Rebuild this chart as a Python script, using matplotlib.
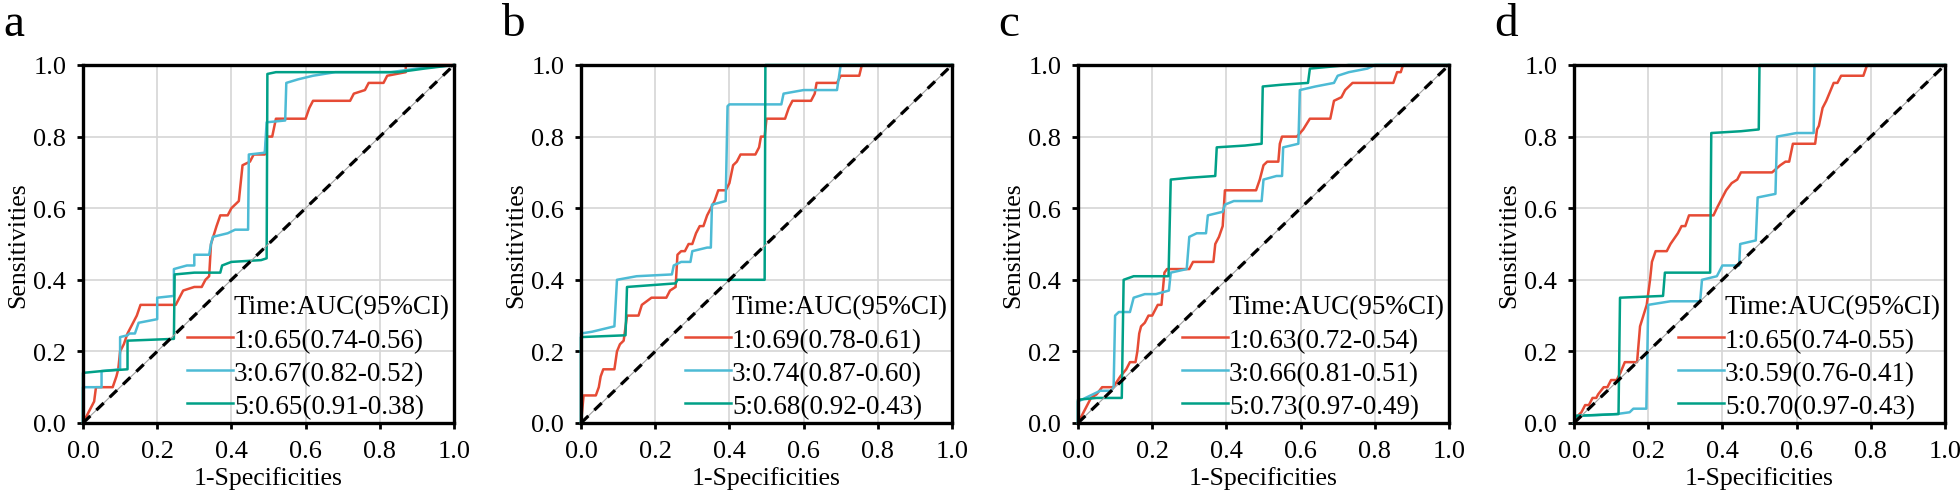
import matplotlib
matplotlib.use("Agg")
import matplotlib.pyplot as plt
from matplotlib.lines import Line2D

plt.rcParams['font.family'] = ['Liberation Serif', 'DejaVu Serif']

# ROC curves: (1-specificity, sensitivity) vertices
a1 = [(0,0),(0.01,0.02),(0.02,0.04),(0.03,0.06),(0.035,0.10),(0.08,0.10),(0.09,0.13),(0.095,0.15),
      (0.10,0.20),(0.11,0.22),(0.12,0.25),(0.13,0.27),(0.145,0.30),(0.155,0.33),(0.25,0.33),(0.26,0.35),
      (0.27,0.37),(0.30,0.38),(0.32,0.38),(0.33,0.40),(0.34,0.41),(0.345,0.50),(0.36,0.55),(0.37,0.58),
      (0.39,0.58),(0.40,0.60),(0.42,0.62),(0.425,0.67),(0.43,0.72),(0.45,0.73),(0.46,0.75),(0.49,0.75),
      (0.495,0.80),(0.51,0.80),(0.52,0.85),(0.60,0.85),(0.61,0.88),(0.62,0.90),(0.72,0.90),(0.73,0.92),
      (0.76,0.93),(0.77,0.95),(0.81,0.95),(0.82,0.97),(0.87,0.98),(0.87,1.0),(1,1)]
a3 = [(0,0),(0,0.10),(0.05,0.10),(0.05,0.145),(0.10,0.15),(0.10,0.24),(0.12,0.245),(0.125,0.25),
      (0.14,0.25),(0.15,0.28),(0.20,0.29),(0.20,0.35),(0.245,0.355),(0.245,0.43),(0.28,0.44),(0.30,0.44),
      (0.30,0.47),(0.34,0.47),(0.345,0.50),(0.35,0.52),(0.39,0.53),(0.41,0.54),(0.445,0.54),(0.447,0.75),
      (0.49,0.755),(0.495,0.84),(0.545,0.845),(0.548,0.95),(0.58,0.96),(0.62,0.97),(0.68,0.98),
      (0.83,0.98),(0.90,0.99),(1,1)]
a5 = [(0,0),(0,0.14),(0.05,0.145),(0.12,0.15),(0.12,0.23),(0.245,0.235),(0.247,0.415),(0.30,0.42),
      (0.37,0.42),(0.375,0.44),(0.40,0.45),(0.48,0.455),(0.495,0.46),(0.497,0.975),(0.52,0.98),
      (0.85,0.98),(0.92,0.99),(1,1)]

b1 = [(0,0),(0.007,0.077),(0.04,0.077),(0.048,0.10),(0.053,0.13),(0.06,0.15),(0.09,0.15),(0.097,0.20),
      (0.105,0.22),(0.115,0.23),(0.124,0.30),(0.155,0.30),(0.164,0.33),(0.19,0.35),(0.23,0.35),(0.24,0.37),
      (0.255,0.38),(0.26,0.47),(0.27,0.48),(0.28,0.48),(0.29,0.50),(0.30,0.50),(0.31,0.53),(0.32,0.55),
      (0.33,0.55),(0.34,0.58),(0.35,0.60),(0.36,0.62),(0.37,0.65),(0.39,0.65),(0.40,0.67),(0.41,0.72),
      (0.42,0.73),(0.43,0.75),(0.47,0.75),(0.48,0.77),(0.485,0.80),(0.495,0.80),(0.50,0.85),(0.55,0.85),
      (0.56,0.88),(0.57,0.90),(0.62,0.90),(0.63,0.92),(0.635,0.95),(0.69,0.95),(0.70,0.97),(0.75,0.97),
      (0.757,1.0),(1,1)]
b3 = [(0,0),(0,0.25),(0.03,0.255),(0.05,0.26),(0.09,0.27),(0.097,0.40),(0.15,0.41),(0.245,0.415),
      (0.25,0.44),(0.27,0.45),(0.295,0.45),(0.30,0.48),(0.34,0.49),(0.35,0.49),(0.353,0.61),(0.39,0.62),
      (0.395,0.885),(0.40,0.89),(0.54,0.89),(0.546,0.92),(0.60,0.93),(0.69,0.93),(0.70,1.0),(1,1)]
b5 = [(0,0),(0,0.24),(0.12,0.245),(0.124,0.38),(0.255,0.39),(0.26,0.40),(0.495,0.40),(0.497,1.0),(1,1)]

c1 = [(0,0),(0.015,0.03),(0.025,0.05),(0.035,0.07),(0.05,0.08),(0.065,0.10),(0.095,0.10),(0.114,0.13),
      (0.13,0.15),(0.14,0.17),(0.155,0.17),(0.16,0.20),(0.165,0.25),(0.17,0.27),(0.18,0.28),(0.19,0.30),
      (0.20,0.30),(0.215,0.33),(0.225,0.33),(0.233,0.42),(0.24,0.43),(0.30,0.43),(0.31,0.45),(0.365,0.45),
      (0.37,0.50),(0.38,0.52),(0.39,0.55),(0.396,0.65),(0.48,0.65),(0.49,0.68),(0.50,0.72),(0.51,0.73),
      (0.54,0.73),(0.544,0.78),(0.55,0.80),(0.59,0.80),(0.607,0.82),(0.625,0.85),(0.68,0.85),(0.69,0.90),
      (0.71,0.91),(0.72,0.93),(0.74,0.95),(0.85,0.95),(0.86,0.98),(0.87,0.98),(0.876,1.0),(1,1)]
c3 = [(0,0),(0,0.06),(0.02,0.07),(0.04,0.08),(0.06,0.09),(0.09,0.09),(0.096,0.10),(0.10,0.30),
      (0.11,0.31),(0.14,0.31),(0.15,0.35),(0.18,0.36),(0.21,0.36),(0.245,0.37),(0.25,0.42),(0.293,0.43),
      (0.30,0.52),(0.32,0.53),(0.345,0.53),(0.35,0.58),(0.39,0.59),(0.396,0.61),(0.42,0.62),(0.495,0.62),
      (0.50,0.68),(0.535,0.69),(0.55,0.69),(0.553,0.77),(0.594,0.78),(0.598,0.93),(0.64,0.94),(0.69,0.95),
      (0.70,0.97),(0.73,0.98),(0.78,0.99),(0.80,1.0),(1,1)]
c5 = [(0,0),(0,0.065),(0.05,0.07),(0.118,0.07),(0.123,0.40),(0.15,0.41),(0.244,0.41),(0.25,0.68),
      (0.30,0.685),(0.37,0.69),(0.374,0.77),(0.45,0.775),(0.495,0.78),(0.498,0.94),(0.55,0.945),
      (0.62,0.95),(0.625,0.99),(0.73,1.0),(1,1)]

d1 = [(0,0),(0.01,0.02),(0.02,0.03),(0.03,0.05),(0.04,0.05),(0.05,0.07),(0.06,0.07),(0.065,0.08),
      (0.08,0.10),(0.09,0.10),(0.10,0.12),(0.115,0.12),(0.125,0.14),(0.137,0.17),(0.17,0.17),(0.178,0.27),
      (0.187,0.30),(0.196,0.33),(0.205,0.40),(0.21,0.45),(0.22,0.48),(0.25,0.48),(0.26,0.50),(0.28,0.53),
      (0.29,0.55),(0.30,0.55),(0.31,0.58),(0.376,0.58),(0.385,0.60),(0.395,0.62),(0.40,0.63),(0.41,0.65),
      (0.425,0.67),(0.44,0.68),(0.45,0.70),(0.534,0.70),(0.556,0.72),(0.57,0.73),(0.58,0.73),(0.59,0.78),
      (0.65,0.78),(0.655,0.82),(0.66,0.83),(0.67,0.88),(0.68,0.90),(0.70,0.95),(0.71,0.95),(0.72,0.97),
      (0.78,0.97),(0.79,1.0),(1,1)]
d3 = [(0,0),(0.006,0.02),(0.06,0.022),(0.115,0.025),(0.15,0.03),(0.16,0.04),(0.195,0.04),(0.20,0.33),
      (0.26,0.34),(0.34,0.34),(0.345,0.40),(0.385,0.41),(0.395,0.43),(0.40,0.44),(0.445,0.44),(0.448,0.50),
      (0.49,0.51),(0.495,0.63),(0.543,0.64),(0.547,0.80),(0.60,0.81),(0.646,0.81),(0.648,1.0),(1,1)]
d5 = [(0,0),(0.005,0.02),(0.12,0.025),(0.124,0.35),(0.24,0.355),(0.245,0.42),(0.367,0.42),(0.37,0.81),
      (0.45,0.815),(0.498,0.82),(0.50,1.0),(1,1)]

panel_letters = ['a', 'b', 'c', 'd']
curves = [[a1, a3, a5], [b1, b3, b5], [c1, c3, c5], [d1, d3, d5]]
labels = [['1:0.65(0.74-0.56)', '3:0.67(0.82-0.52)', '5:0.65(0.91-0.38)'],
          ['1:0.69(0.78-0.61)', '3:0.74(0.87-0.60)', '5:0.68(0.92-0.43)'],
          ['1:0.63(0.72-0.54)', '3:0.66(0.81-0.51)', '5:0.73(0.97-0.49)'],
          ['1:0.65(0.74-0.55)', '3:0.59(0.76-0.41)', '5:0.70(0.97-0.43)']]
colors = ['#E64B35', '#4DBBD5', '#00A087']

fig = plt.figure(figsize=(19.6, 5.02), dpi=100)
lefts = [83, 581, 1078, 1574]

for k in range(4):
    ax = fig.add_axes([lefts[k] / 1960, 1 - 424 / 502, 371 / 1960, 358 / 502])
    ax.grid(True, color='#d6d6d6', linewidth=1.2, zorder=0)
    ax.set_axisbelow(True)
    for c, lab, col in zip(curves[k], labels[k], colors):
        xs = [p[0] for p in c]
        ys = [p[1] for p in c]
        ax.plot(xs, ys, color=col, linewidth=1.8, label=lab, zorder=3, clip_on=False)
    ax.plot([0, 1], [0, 1], color='#a0a0a0', linewidth=0.8, zorder=4)
    ax.plot([0, 1], [0, 1], color='black', linewidth=2.3, dashes=(3.2, 2.6), zorder=4)
    ax.set_xlim(0, 1)
    ax.set_ylim(0, 1)
    ticks = [0, 0.2, 0.4, 0.6, 0.8, 1.0]
    ax.set_xticks(ticks)
    ax.set_yticks(ticks)
    ax.set_xticklabels(['%.1f' % t for t in ticks])
    ax.set_yticklabels(['%.1f' % t for t in ticks])
    for s in ax.spines.values():
        s.set_linewidth(2.4)
        s.set_zorder(5)
    ax.tick_params(direction='out', length=4, width=2, labelsize=19, pad=8)
    ax.set_xlabel('1-Specificities', fontsize=18.5, labelpad=3)
    ax.set_ylabel('Sensitivities', fontsize=18.5, labelpad=3)
    h, l = ax.get_legend_handles_labels()
    title_h = Line2D([], [], color='none')
    ax.legend([title_h] + h, ['Time:AUC(95%CI)'] + l, loc='lower right', frameon=False,
              fontsize=19.5, handlelength=1.7, handletextpad=0.05, labelspacing=0.3,
              borderpad=0.05, borderaxespad=0.1)
    fig.text((lefts[k] - 80) / 1960, 1 - 36 / 502, panel_letters[k], fontsize=34)

fig.savefig('out.png', dpi=100)
